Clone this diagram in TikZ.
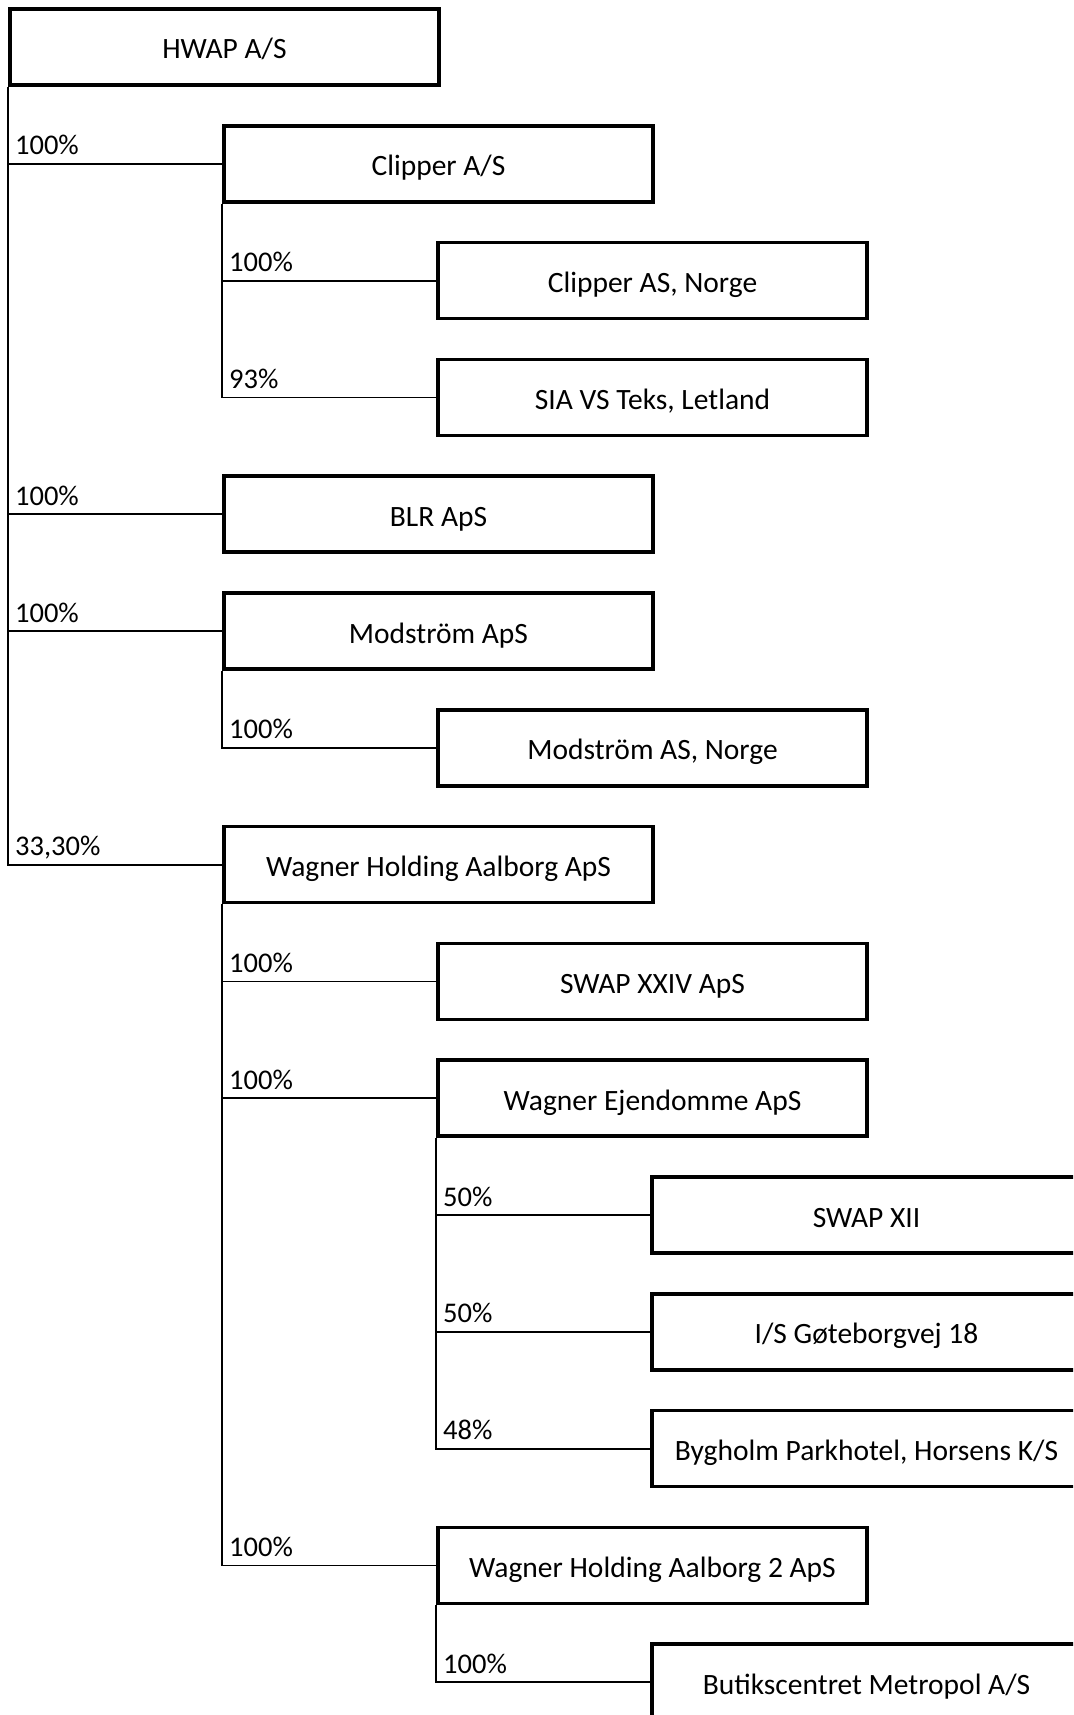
\documentclass[tikz,border=0pt]{standalone}
\usepackage{fontspec}
\setmainfont{Carlito}
\usetikzlibrary{positioning}

\begin{document}
\begin{tikzpicture}[x=1pt,y=-1pt,
		co/.style={draw,line width=3.5pt,minimum width=429pt,minimum height=76pt,inner sep=0pt,text height=24pt,text depth=0pt,font=\fontsize{29.5}{34}\selectfont},
		own/.style={line width=1.8pt},
		pct/.style={anchor=base west,inner sep=0pt,xshift=6pt,yshift=9pt,font=\fontsize{28.5}{32}\selectfont}]
		\clip (0,0) rectangle (1073,1715);
		\fill[white] (0,0) rectangle (1073,1715);
		% companies
		\node[co] (hwap)   at (224.5,47)     {HWAP A/S};
		\node[co] (clip)   at (438.5,163.8)  {Clipper A/S};
		\node[co] (clipno) at (652.5,280.6)  {Clipper AS, Norge};
		\node[co] (sia)    at (652.5,397.4)  {SIA VS Teks, Letland};
		\node[co] (blr)    at (438.5,514.2)  {BLR ApS};
		\node[co] (mod)    at (438.5,631)    {Modström ApS};
		\node[co] (modno)  at (652.5,747.8)  {Modström AS, Norge};
		\node[co] (wha)    at (438.5,864.6)  {Wagner Holding Aalborg ApS};
		\node[co] (swap24) at (652.5,981.4)  {SWAP XXIV ApS};
		\node[co] (wej)    at (652.5,1098.2) {Wagner Ejendomme ApS};
		\node[co] (swap12) at (866.5,1215)   {SWAP XII};
		\node[co] (gote)   at (866.5,1331.8) {I/S Gøteborgvej 18};
		\node[co] (bygh)   at (866.5,1448.6) {Bygholm Parkhotel, Horsens K/S};
		\node[co] (wha2)   at (652.5,1565.4) {Wagner Holding Aalborg 2 ApS};
		\node[co] (metro)  at (866.5,1682.2) {Butikscentret Metropol A/S};
		% ownership
		\draw[own] (hwap.south west) |- (clip.west) node[pct,pos=0.5] {100\%};
		\draw[own] (hwap.south west) |- (blr.west)  node[pct,pos=0.5] {100\%};
		\draw[own] (hwap.south west) |- (mod.west)  node[pct,pos=0.5] {100\%};
		\draw[own] (hwap.south west) |- (wha.west)  node[pct,pos=0.5] {33,30\%};
		\draw[own] (clip.south west) |- (clipno.west) node[pct,pos=0.5] {100\%};
		\draw[own] (clip.south west) |- (sia.west)    node[pct,pos=0.5] {93\%};
		\draw[own] (mod.south west) |- (modno.west) node[pct,pos=0.5] {100\%};
		\draw[own] (wha.south west) |- (swap24.west) node[pct,pos=0.5] {100\%};
		\draw[own] (wha.south west) |- (wej.west)    node[pct,pos=0.5] {100\%};
		\draw[own] (wha.south west) |- (wha2.west)   node[pct,pos=0.5] {100\%};
		\draw[own] (wej.south west) |- (swap12.west) node[pct,pos=0.5] {50\%};
		\draw[own] (wej.south west) |- (gote.west)   node[pct,pos=0.5] {50\%};
		\draw[own] (wej.south west) |- (bygh.west)   node[pct,pos=0.5] {48\%};
		\draw[own] (wha2.south west) |- (metro.west) node[pct,pos=0.5] {100\%};
	\end{tikzpicture}
\end{document}
